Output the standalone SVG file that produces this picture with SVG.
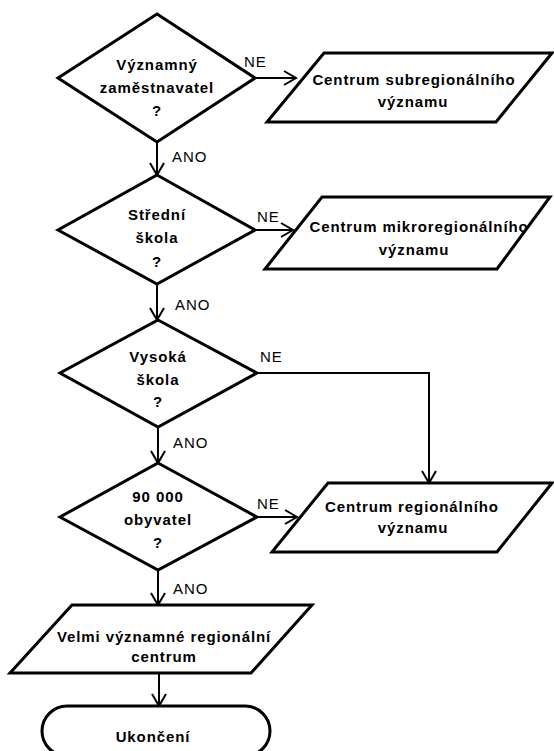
<svg xmlns="http://www.w3.org/2000/svg" width="554" height="751" viewBox="0 0 554 751">
<style>
.shape{fill:#fff;stroke:#000;stroke-width:3;stroke-linejoin:miter}
.t{font-family:"Liberation Sans",Arial,sans-serif;font-weight:bold;font-size:15px;letter-spacing:0.9px;text-anchor:middle;fill:#000}
.lbl{font-family:"Liberation Sans",Arial,sans-serif;font-size:15px;letter-spacing:1px;fill:#000}
.c{fill:none;stroke:#000;stroke-width:2}
</style>
<defs>
<marker id="ah" viewBox="0 0 12 14" refX="12" refY="7" markerWidth="12" markerHeight="14" markerUnits="userSpaceOnUse" orient="auto" overflow="visible">
<path d="M0,0 L12,7 L0,14" fill="none" stroke="#000" stroke-width="2"/>
</marker>
</defs>
<rect width="554" height="751" fill="#fff"/>
<g id="connectors">
<path class="c" d="M255,78 L296,78" marker-end="url(#ah)"/>
<path class="c" d="M157,142 L157,175" marker-end="url(#ah)"/>
<path class="c" d="M255,230 L293,230" marker-end="url(#ah)"/>
<path class="c" d="M157,284 L157,320" marker-end="url(#ah)"/>
<path class="c" d="M257,373 L429,373 L429,483" marker-end="url(#ah)"/>
<path class="c" d="M158,427 L158,463" marker-end="url(#ah)"/>
<path class="c" d="M257,517 L297,517" marker-end="url(#ah)"/>
<path class="c" d="M158,570 L158,605" marker-end="url(#ah)"/>
<path class="c" d="M159,673 L159,706" marker-end="url(#ah)"/>
<text class="lbl" x="244" y="67">NE</text>
<text class="lbl" x="172" y="162">ANO</text>
<text class="lbl" x="257" y="222">NE</text>
<text class="lbl" x="175" y="310">ANO</text>
<text class="lbl" x="260" y="362">NE</text>
<text class="lbl" x="173" y="448">ANO</text>
<text class="lbl" x="257" y="509">NE</text>
<text class="lbl" x="173" y="594">ANO</text>
</g>
<g id="d1">
<polygon class="shape" points="157,14 255,78 157,142 58,78"/>
<text class="t" x="157" y="70">Významný</text>
<text class="t" x="157" y="93">zaměstnavatel</text>
<text class="t" x="157" y="116">?</text>
</g>
<g id="p1">
<polygon class="shape" points="324,53 552,53 496,122 267,122"/>
<text class="t" x="414" y="85">Centrum subregionálního</text>
<text class="t" x="413" y="107">významu</text>
</g>
<g id="d2">
<polygon class="shape" points="157,175 255,230 157,284 58,230"/>
<text class="t" x="157" y="220">Střední</text>
<text class="t" x="157" y="243">škola</text>
<text class="t" x="157" y="267">?</text>
</g>
<g id="p2">
<polygon class="shape" points="322,197 550,197 497,269 265,269"/>
<text class="t" x="419" y="232">Centrum mikroregionálního</text>
<text class="t" x="414" y="255">významu</text>
</g>
<g id="d3">
<polygon class="shape" points="158,320 257,373 158,427 60,373"/>
<text class="t" x="158" y="362">Vysoká</text>
<text class="t" x="158" y="385">škola</text>
<text class="t" x="158" y="407">?</text>
</g>
<g id="d4">
<polygon class="shape" points="158,463 257,517 158,570 60,517"/>
<text class="t" x="158" y="502">90 000</text>
<text class="t" x="158" y="525">obyvatel</text>
<text class="t" x="158" y="548">?</text>
</g>
<g id="p3">
<polygon class="shape" points="328,483 552,483 497,552 272,552"/>
<text class="t" x="412" y="512">Centrum regionálního</text>
<text class="t" x="413" y="533">významu</text>
</g>
<g id="p4">
<polygon class="shape" points="72,605 312,605 251,673 10,673"/>
<text class="t" x="164" y="642">Velmi významné regionální</text>
<text class="t" x="164" y="662">centrum</text>
</g>
<g id="end">
<rect class="shape" x="42" y="706" width="228" height="50" rx="25" ry="25"/>
<text class="t" x="153" y="742">Ukončení</text>
</g>
</svg>
